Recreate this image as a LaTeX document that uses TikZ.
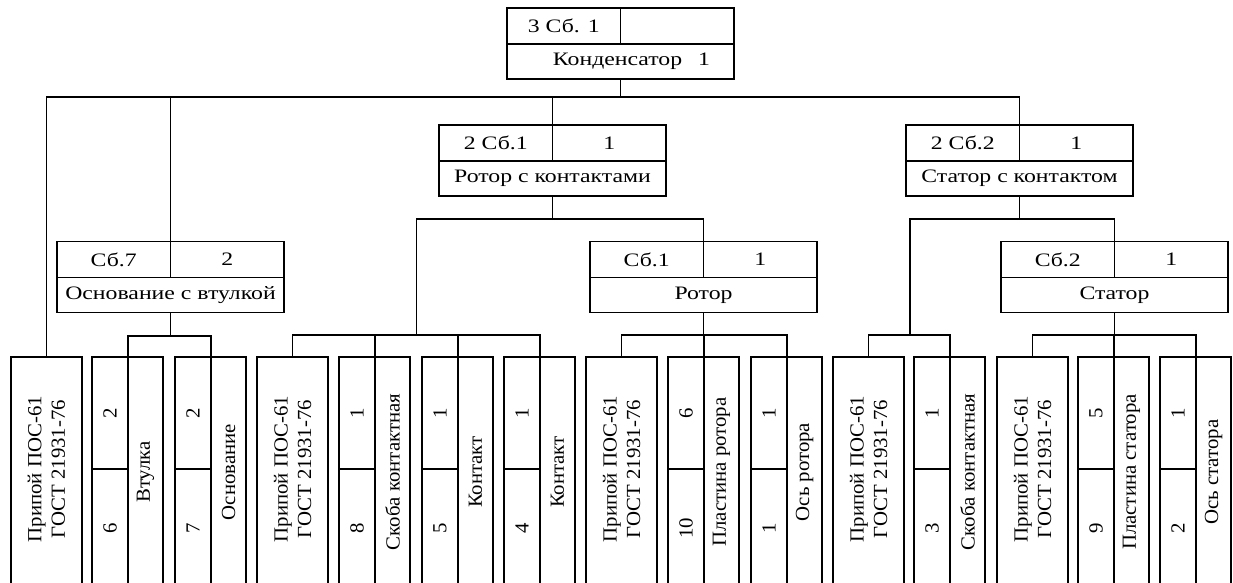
\documentclass[tikz,border=0pt]{standalone}
\usepackage{fontspec}
\setmainfont{Liberation Serif}
\newfontfamily\headfont{Liberation Serif}[FakeStretch=1.25]
\newfontfamily\leaffont{Liberation Serif}[FakeStretch=1.04]
\usepackage{tikz}
\usetikzlibrary{positioning}
\tikzset{
  cell/.style={draw, line width=1.3pt, inner sep=0pt, outer sep=0pt,
    font=\headfont\fontsize{19}{23}\selectfont},
  leafcell/.style={cell, font=\leaffont\fontsize{20}{23.5}\selectfont},
  headcell/.style={cell, minimum width=113.5pt, minimum height=36pt},
  namecell/.style={cell, minimum width=227pt, minimum height=35pt},
  qtycell/.style={leafcell, minimum width=36pt, minimum height=112pt},
  poscell/.style={leafcell, minimum width=36pt, minimum height=118pt},
  titlecell/.style={leafcell, minimum width=35pt, minimum height=230pt},
  soldercell/.style={leafcell, minimum width=71pt, minimum height=230pt},
  solderlabel/.style={rotate=90, align=center, inner sep=0pt,
    font=\leaffont\fontsize{20}{23.5}\selectfont},
  link/.style={line width=1.3pt, color=black}
}
% assembly box: name, top left, code, quantity, title
\newcommand{\unitbox}[5]{%
  \node[headcell, anchor=north west] (#1-code) at (#2) {#3};
  \node[headcell, right=0pt of #1-code] (#1-qty) {#4};
  \node[namecell, anchor=north west] (#1) at (#1-code.south west) {#5};
  \coordinate (#1-top) at (#1-code.north east);
}
% part leaf: name, left x, quantity, position, title
\newcommand{\partleaf}[5]{%
  \node[qtycell, anchor=north west] (#1-qty) at (#2,357) {\rotatebox{90}{#3}};
  \node[poscell, below=0pt of #1-qty] (#1-pos) {\rotatebox{90}{#4}};
  \node[titlecell, anchor=north west] (#1) at (#1-qty.north east) {\rotatebox{90}{#5}};
  \coordinate (#1-top) at (#1.north west);
}
% solder leaf: name, left x
\newcommand{\solderleaf}[2]{%
  \node[soldercell, anchor=north west] (#1) at (#2,357) {};
  \node[solderlabel] (#1-label) at ([yshift=3pt]#1.center) {Припой ПОС-61\\ГОСТ 21931-76};
  \coordinate (#1-top) at (#1.north);
}

\begin{document}
\begin{tikzpicture}[x=1pt, y=-1pt]
  \path[use as bounding box, clip] (0,0) rectangle (1233,582);

  % Assembly boxes
  \unitbox{cond}{507,8}{3 Сб. 1}{}{\hspace*{22pt}Конденсатор\hspace{16pt}1}
  \unitbox{base}{57,241.5}{Сб.7}{2}{Основание с втулкой}
  \unitbox{rotorK}{439,125}{2 Сб.1}{1}{Ротор с контактами}
  \unitbox{rotor}{590,241.5}{Сб.1}{1}{Ротор}
  \unitbox{statorK}{906,125}{2 Сб.2}{1}{Статор с контактом}
  \unitbox{stator}{1001,241.5}{Сб.2}{1}{Статор}

  % Leaves
  \solderleaf{solderA}{11}
  \partleaf{bushing}{92}{2}{6}{Втулка}
  \partleaf{basepart}{175}{2}{7}{Основание}
  \solderleaf{solderB}{257}
  \partleaf{clampA}{339}{1}{8}{Скоба контактная}
  \partleaf{contactA}{422}{1}{5}{Контакт}
  \partleaf{contactB}{504}{1}{4}{Контакт}
  \solderleaf{solderC}{586}
  \partleaf{rotorPlate}{668}{6}{10}{Пластина ротора}
  \partleaf{rotorAxis}{751}{1}{1}{Ось ротора}
  \solderleaf{solderD}{833}
  \partleaf{clampB}{914}{1}{3}{Скоба контактная}
  \solderleaf{solderE}{997}
  \partleaf{statorPlate}{1078}{5}{9}{Пластина статора}
  \partleaf{statorAxis}{1160}{1}{2}{Ось статора}

  % Bus lines
  \coordinate (busCond) at (cond.south |- 0,97);
  \draw[link] (cond.south) -- (busCond);
  \draw[link] (busCond) -| (solderA-top);
  \draw[link] (busCond) -| (base-top);
  \draw[link] (busCond) -| (rotorK-top);
  \draw[link] (busCond) -| (statorK-top);

  \coordinate (busBase) at (base.south |- 0,336);
  \draw[link] (base.south) -- (busBase);
  \draw[link] (busBase) -| (bushing-top);
  \draw[link] (busBase) -| (basepart-top);

  \coordinate (busRotorK) at (rotorK.south |- 0,219);
  \coordinate (busContacts) at (416.5,335);
  \draw[link] (rotorK.south) -- (busRotorK);
  \draw[link] (busRotorK) -| (busContacts);
  \draw[link] (busRotorK) -| (rotor-top);
  \draw[link] (busContacts) -| (solderB-top);
  \draw[link] (busContacts) -| (clampA-top);
  \draw[link] (busContacts) -| (contactA-top);
  \draw[link] (busContacts) -| (contactB-top);

  \coordinate (busRotor) at (rotor.south |- 0,335);
  \draw[link] (rotor.south) -- (busRotor);
  \draw[link] (busRotor) -| (solderC-top);
  \draw[link] (busRotor) -| (rotorPlate-top);
  \draw[link] (busRotor) -| (rotorAxis-top);

  \coordinate (busStatorK) at (statorK.south |- 0,219);
  \coordinate (busClamp) at (910,335);
  \draw[link] (statorK.south) -- (busStatorK);
  \draw[link] (busStatorK) -| (busClamp);
  \draw[link] (busStatorK) -| (stator-top);
  \draw[link] (busClamp) -| (solderD-top);
  \draw[link] (busClamp) -| (clampB-top);

  \coordinate (busStator) at (stator.south |- 0,335);
  \draw[link] (stator.south) -- (busStator);
  \draw[link] (busStator) -| (solderE-top);
  \draw[link] (busStator) -| (statorPlate-top);
  \draw[link] (busStator) -| (statorAxis-top);
\end{tikzpicture}
\end{document}
